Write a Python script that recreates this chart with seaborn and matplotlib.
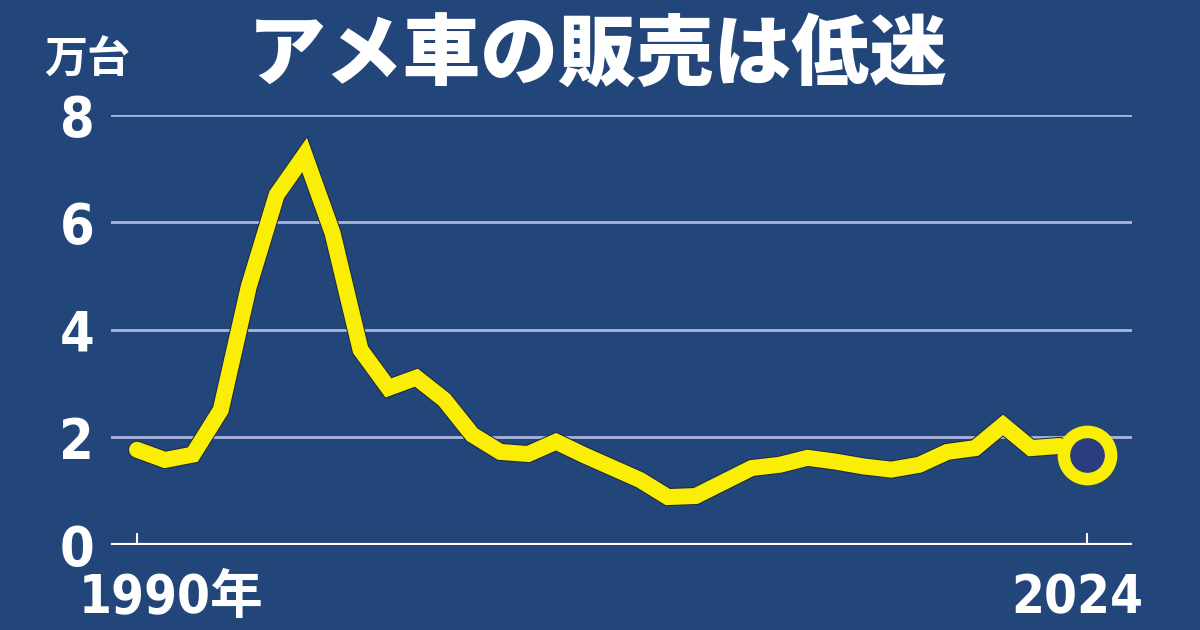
import matplotlib
matplotlib.use('Agg')
import matplotlib.pyplot as plt
import matplotlib.patheffects as pe
import seaborn as sns
import pandas as pd

# Data (unit: 万台)
years = list(range(1990, 2025))
sales = [1.77, 1.58, 1.68, 2.51, 4.80, 6.51, 7.25, 5.80, 3.63, 2.92,
         3.11, 2.70, 2.05, 1.73, 1.69, 1.92, 1.67, 1.44, 1.21, 0.89,
         0.91, 1.17, 1.43, 1.49, 1.62, 1.55, 1.46, 1.40, 1.49, 1.73,
         1.80, 2.23, 1.80, 1.84, 1.67]
y_ticks = [0, 2, 4, 6, 8]
x_labels = {1990: '1990年', 2024: '2024'}
title = 'アメ車の販売は低迷'
unit = '万台'

BG = '#23467a'
YELLOW = '#fbee05'
GRID = '#aab4dc'
num_font = ['Liberation Sans Narrow', 'DejaVu Sans', 'Noto Sans CJK JP']
jp_font = ['Noto Sans CJK JP', 'DejaVu Sans']

df = pd.DataFrame({'year': years, 'sales': sales})

sns.set_theme(style='white')
plt.rcParams['font.family'] = jp_font

fig = plt.figure(figsize=(12, 6.3), dpi=100, facecolor=BG)
ax = fig.add_axes([0.0925, 0.135, 0.8505, 0.683])
ax.set_facecolor(BG)

sns.lineplot(data=df, x='year', y='sales', ax=ax, color=YELLOW, linewidth=11.5,
             solid_joinstyle='miter', solid_capstyle='round', zorder=5, clip_on=False,
             path_effects=[pe.Stroke(linewidth=13, foreground='#1c2a40'), pe.Normal()])

# last point: open ring marker
last = df.iloc[[-1]]
ax.plot(last['year'], last['sales'], 'o', markersize=34, markerfacecolor='#2a3e7e',
        markeredgecolor=YELLOW, markeredgewidth=9, zorder=6, clip_on=False)

ax.set_xlim(1989.07, 2025.6)
ax.set_ylim(0, 8)

ax.set_yticks(y_ticks)
for v in y_ticks[1:]:
    ax.axhline(v, color=GRID, linewidth=2, zorder=1)
ax.axhline(0, color='white', linewidth=3, zorder=2)

ax.set_yticklabels([str(v) for v in y_ticks], fontsize=40, color='white',
                   fontweight='bold', family=num_font, fontstretch='condensed')
ax.tick_params(axis='y', length=0, pad=12)

ax.set_xticks(list(x_labels.keys()))
ax.set_xticklabels([])
ax.tick_params(axis='x', direction='in', length=9, width=1.5, color='white', bottom=True)
for yr, lab in x_labels.items():
    dx = 34 if yr == 1990 else -10
    ax.annotate(lab, xy=(yr, 0), xycoords=('data', 'axes fraction'),
                xytext=(dx, -27), textcoords='offset pixels', ha='center', va='top',
                fontsize=38, color='white', fontweight='bold',
                family=num_font, fontstretch='condensed')

for s in ax.spines.values():
    s.set_visible(False)
ax.set_xlabel('')
ax.set_ylabel('')

fig.text(0.0725, 0.905, unit, fontsize=31, color='white', fontweight='bold',
         family=jp_font, ha='center', va='center')
fig.text(0.4977, 0.91, title, fontsize=56, color='white', fontweight='heavy',
         family=jp_font, ha='center', va='center')

fig.savefig('out.png', dpi=100, facecolor=BG)
